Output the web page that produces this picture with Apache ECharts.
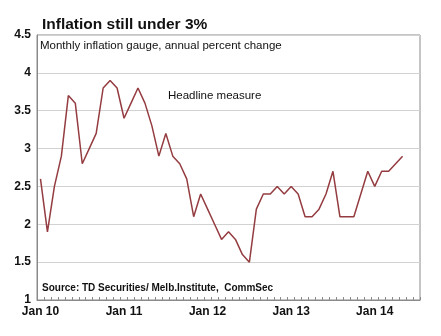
<!DOCTYPE html>
<html>
<head>
<meta charset="utf-8">
<script src="https://cdn.jsdelivr.net/npm/echarts@6/dist/echarts.min.js"></script>
<style>
html,body{margin:0;padding:0;background:#fff;}
#c{width:441px;height:336px;}
</style>
</head>
<body>
<div id="c"></div>
<script>
// Monthly categories Jan 10 .. Jul 14
var monthNames = ['Jan','Feb','Mar','Apr','May','Jun','Jul','Aug','Sep','Oct','Nov','Dec'];
var years = ['10','11','12','13','14'];
var categories = [];
years.forEach(function (y, yi) {
  monthNames.forEach(function (m, mi) {
    if (yi < 4 || mi < 7) categories.push(m + ' ' + y);
  });
});
// Headline measure, annual % change, Jan 10 .. May 14
var headline = [
  2.6, 1.9, 2.5, 2.9, 3.7, 3.6, 2.8, 3.0, 3.2, 3.8, 3.9, 3.8,
  3.4, 3.6, 3.8, 3.6, 3.3, 2.9, 3.2, 2.9, 2.8, 2.6, 2.1, 2.4,
  2.2, 2.0, 1.8, 1.9, 1.8, 1.6, 1.5, 2.2, 2.4, 2.4, 2.5, 2.4,
  2.5, 2.4, 2.1, 2.1, 2.2, 2.4, 2.7, 2.1, 2.1, 2.1, 2.4, 2.7,
  2.5, 2.7, 2.7, 2.8, 2.9
];
var yTicks = [1, 1.5, 2, 2.5, 3, 3.5, 4, 4.5];

var FONT = 'Arial, "Liberation Sans", sans-serif';
var chart = echarts.init(document.getElementById('c'));
chart.setOption({
  backgroundColor: '#ffffff',
  animation: false,
  grid: {
    left: 37, right: 21, top: 35, bottom: 36,
    show: true, borderColor: '#8a8a8a', borderWidth: 1, backgroundColor: 'transparent'
  },
  title: {
    text: 'Inflation still under 3%',
    left: 37, top: 12,
    textStyle: { fontFamily: FONT, fontSize: 15.5, fontWeight: 'bold', color: '#111' }
  },
  xAxis: {
    type: 'category',
    data: categories,
    boundaryGap: true,
    axisLine: { show: true, lineStyle: { color: '#8a8a8a', width: 1 } },
    axisTick: { show: true, inside: true, length: 3, interval: 0, lineStyle: { color: '#8a8a8a' } },
    axisLabel: {
      interval: function (i) { return i % 12 === 0; },
      fontFamily: FONT, fontSize: 12, fontWeight: 'bold', color: '#111', margin: 6
    },
    splitLine: { show: false }
  },
  yAxis: {
    type: 'value',
    min: yTicks[0], max: yTicks[yTicks.length - 1], interval: 0.5,
    axisLine: { show: true, lineStyle: { color: '#8a8a8a' } },
    axisTick: { show: false },
    axisLabel: {
      fontFamily: FONT, fontSize: 12, fontWeight: 'bold', color: '#111', margin: 6,
      formatter: function (v) { return String(v); }
    },
    splitLine: { show: true, lineStyle: { color: '#d2d2d2', width: 1 } }
  },
  series: [{
    type: 'line',
    data: headline,
    symbol: 'none',
    lineStyle: { color: '#943c40', width: 1.5 },
    z: 3
  }],
  graphic: [
    { type: 'text', left: 40, top: 40,
      style: { text: 'Monthly inflation gauge, annual percent change', font: '11.5px ' + FONT, fill: '#111' } },
    { type: 'text', left: 168, top: 90,
      style: { text: 'Headline measure', font: '11.5px ' + FONT, fill: '#111' } },
    { type: 'text', left: 42, top: 283,
      style: { text: 'Source: TD Securities/ Melb.Institute,  CommSec', font: 'bold 10px ' + FONT, fill: '#111' } }
  ]
});
</script>
</body>
</html>
